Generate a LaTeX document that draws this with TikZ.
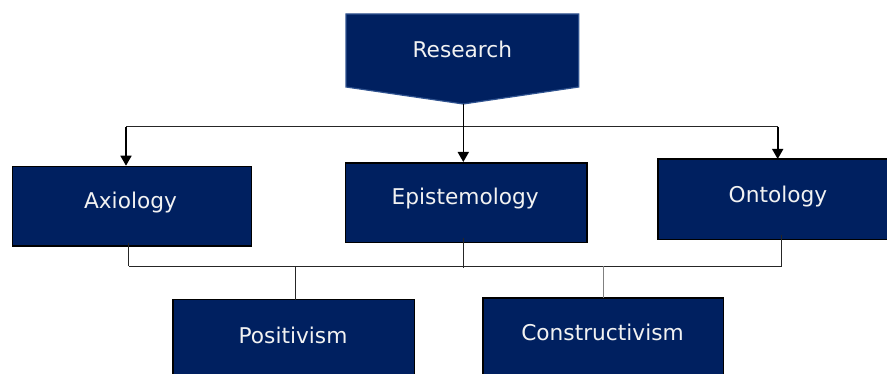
\documentclass[tikz,border=0pt]{standalone}
\usepackage{fontspec}
\setmainfont{DejaVu Sans}
\usetikzlibrary{arrows.meta,calc}
\definecolor{navy}{HTML}{002060}
\definecolor{rborder}{HTML}{2F528F}
\definecolor{txtw}{HTML}{F2F2F2}
\begin{document}
\begin{tikzpicture}[x=1pt,y=-1pt,
 box/.style={draw=black, line width=1.6pt, fill=navy, inner sep=0pt, anchor=north west},
 openbox/.style={fill=navy, inner sep=0pt, anchor=north west},
 edge3/.style={draw=black, line width=1.6pt, line join=miter},
 lbl/.style={text=txtw, font=\fontsize{21.7}{26}\selectfont, anchor=base, inner sep=0pt},
 conn/.style={draw=black!85, line width=0.9pt},
 gconn/.style={draw=black!50, line width=1.5pt},
 arr/.style={draw=black, line width=1.6pt, -{Triangle[length=10pt,width=11pt]}}]
\useasboundingbox (0,0) rectangle (887,374);

% Research pentagon
\path[draw=rborder, line width=1.2pt, fill=navy] (346,14) -- (578.7,14) -- (578.7,87) -- (463.3,104) -- (346,87) -- cycle;
\coordinate (rtip) at (463.3,104);
\node[lbl] (rtxt) at (462.3,57.3) {Research};

% boxes fully visible
\node[box, minimum width=239pt, minimum height=79.3pt] (ax) at (11.7,165.7) {};
\node[box, minimum width=241.3pt, minimum height=79.7pt] (ep) at (344.7,162) {};
% boxes running past the picture edge
\node[openbox, minimum width=232pt, minimum height=80pt] (on) at (657.7,159) {};
\draw[edge3] (on.north east) -- (on.north west) -- (on.south west) -- (on.south east);
\node[openbox, minimum width=241.3pt, minimum height=76pt] (po) at (172.7,299.7) {};
\draw[edge3] (po.south west) -- (po.north west) -- (po.north east) -- (po.south east);
\node[openbox, minimum width=240.3pt, minimum height=77pt] (co) at (482.7,298) {};
\draw[edge3] (co.south west) -- (co.north west) -- (co.north east) -- (co.south east);

\node[lbl] (axt) at (130.5,208.7) {Axiology};
\node[lbl] (ept) at (465.2,205) {Epistemology};
\node[lbl] (ont) at (778,202.7) {Ontology};
\node[lbl] (pot) at (293,343.3) {Positivism};
\node[lbl] (cot) at (602.5,341) {Constructivism};

% top distribution
\coordinate (hl) at (126,126.7);
\coordinate (hr) at (777.7,126.7);
\draw[conn] (hl) -- (hr);
\draw[arr] (rtip) -- (rtip |- ep.north);
\draw[arr] (hl) -- (hl |- ax.north);
\draw[arr] (hr) -- (hr |- on.north);

% bottom collection
\coordinate (bl) at (128.5,266.3);
\coordinate (br) at (781.7,266.3);
\coordinate (bm) at (463.3,266.3);
\coordinate (pj) at (295.3,266.3);
\coordinate (cj) at (603.7,266.3);
\draw[conn] (bl) -- (br);
\draw[conn] ($(bl |- ax.south)+(0,-4)$) -- (bl);
\draw[conn] ($(bm |- ep.south)+(0,-5)$) -- ($(bm)+(0,1.3)$);
\draw[conn] ($(br |- on.south)+(0,-4)$) -- (br);
\draw[conn] (pj) -- (pj |- po.north);
\draw[gconn] (cj) -- (cj |- co.north);
\end{tikzpicture}
\end{document}
